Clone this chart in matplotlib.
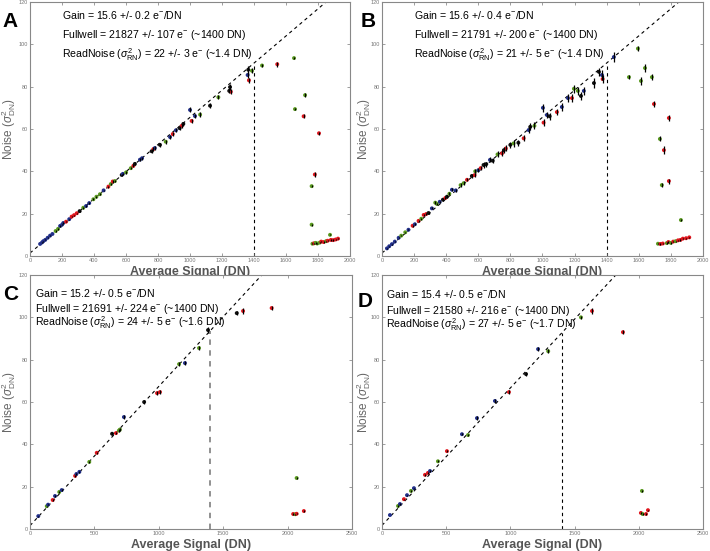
import matplotlib
matplotlib.use('Agg')
import matplotlib.pyplot as plt
import numpy as np

plt.rcParams['font.family'] = ['Liberation Sans', 'DejaVu Sans']
plt.rcParams['mathtext.fontset'] = 'custom'
plt.rcParams['mathtext.rm'] = 'Liberation Sans'
plt.rcParams['mathtext.it'] = 'Liberation Sans:italic'
plt.rcParams['mathtext.bf'] = 'Liberation Sans:bold'

# ---- Panel A ----
a_signal = [63, 75, 83, 95, 110, 125, 140, 160, 175, 188, 200, 208, 225, 245, 260, 275, 292, 310,
            333, 350, 370, 396, 415, 437, 460, 490, 505, 517, 530, 573, 580, 600, 630, 646, 655,
            687, 700, 760, 771, 780, 812, 848, 875, 892, 912, 935, 948, 958, 1000, 1010, 1031,
            1063, 1125, 1177, 1245, 1250, 1255, 1360, 1364, 1368, 1387, 1450, 1545, 1650, 1656,
            1710, 1719, 1760, 1760, 1780, 1806,
            1765, 1775, 1785, 1795, 1810, 1820, 1835, 1850, 1860, 1875, 1880, 1895, 1910, 1925]
a_noise = [5.7, 6.4, 7.0, 7.6, 8.6, 9.6, 10.4, 11.8, 12.8, 14.2, 14.8, 15.6, 16.2, 17.4, 18.6, 19.3,
           20.2, 21.2, 22.8, 23.6, 25.0, 26.8, 28.0, 29.2, 31.0, 32.8, 34.0, 35.2, 35.4, 38.3, 38.8,
           39.5, 41.5, 42.6, 43.5, 45.5, 46.2, 49.5, 50.5, 51.0, 52.5, 54.0, 56.2, 57.6, 59.4, 60.4,
           61.5, 62.4, 69.0, 63.8, 66.1, 66.8, 71.0, 75.0, 78.0, 79.8, 77.6, 85.5, 88.0, 83.0, 87.5,
           90.0, 90.6, 93.5, 69.4, 66.0, 76.0, 33.0, 14.8, 38.5, 58.0,
           5.8, 6.0, 6.2, 5.9, 6.3, 6.8, 6.6, 7.0, 7.2, 10.0, 7.6, 7.5, 7.8, 8.2]
a_err = [0.2, 0.2, 0.2, 0.2, 0.2, 0.2, 0.2, 0.3, 0.3, 0.3, 0.3, 0.3, 0.3, 0.3, 0.3, 0.3, 0.3, 0.3,
         0.4, 0.4, 0.4, 0.4, 0.4, 0.4, 0.4, 0.5, 0.5, 0.5, 0.5, 0.6, 0.6, 0.6, 0.6, 0.7, 0.7, 0.7,
         0.7, 0.9, 0.9, 0.9, 0.9, 0.9, 1.0, 1.0, 1.0, 1.0, 1.0, 1.0, 1.2, 1.0, 1.0, 1.0, 1.2, 1.0,
         1.2, 1.5, 1.2, 1.5, 1.8, 1.2, 1.2, 0.8, 1.2, 0.6, 0.6, 1.0, 1.0, 0.6, 0.4, 1.2, 0.8,
         0.3, 0.3, 0.3, 0.3, 0.3, 0.3, 0.3, 0.3, 0.3, 0.3, 0.3, 0.3, 0.3, 0.3]
a_color = ['b', 'b', 'b', 'b', 'b', 'b', 'b', 'g', 'g', 'b', 'b', 'b', 'r', 'b', 'r', 'r', 'r', 'k',
           'g', 'b', 'b', 'g', 'g', 'g', 'b', 'r', 'g', 'r', 'g', 'k', 'b', 'g', 'g', 'r', 'k',
           'b', 'b', 'k', 'r', 'b', 'k', 'g', 'b', 'r', 'b', 'k', 'r', 'k', 'b', 'r', 'b',
           'g', 'k', 'g', 'k', 'k', 'r', 'b', 'k', 'r', 'g', 'g', 'r', 'g', 'g',
           'r', 'g', 'g', 'g', 'r', 'r',
           'g', 'r', 'g', 'g', 'g', 'r', 'r', 'g', 'r', 'g', 'r', 'r', 'r', 'r']

# ---- Panel B ----
b_signal = [31, 45, 62, 80, 104, 120, 145, 165, 191, 205, 228, 245, 260, 275, 290, 311, 332, 342,
            360, 380, 395, 405, 420, 436, 460, 490, 509, 530, 560, 577, 581, 600, 615, 633, 650,
            673, 690, 720, 748, 760, 772, 800, 820, 850, 883, 914, 924, 950, 1003, 1007, 1028,
            1045, 1090, 1121, 1159, 1184, 1196, 1221, 1240, 1258, 1321, 1352, 1371, 1375, 1445,
            1539, 1595, 1614, 1639, 1682, 1695, 1732, 1744, 1757, 1788, 1788, 1863,
            1720, 1735, 1750, 1775, 1785, 1800, 1815, 1830, 1845, 1860, 1875, 1895, 1915]
b_noise = [3.6, 4.6, 5.6, 6.8, 8.6, 9.6, 11.2, 12.4, 14.3, 15.0, 16.6, 17.6, 19.4, 19.8, 20.3, 22.5,
           25.2, 24.6, 25.6, 26.6, 27.4, 28.0, 29.4, 31.3, 31.0, 33.5, 34.4, 36.0, 37.8, 38.2, 40.0,
           40.5, 41.5, 43.0, 43.4, 45.4, 45.0, 48.0, 48.5, 50.0, 50.8, 52.5, 53.2, 53.5, 55.6, 59.5,
           61.0, 61.5, 70.0, 63.0, 66.6, 66.0, 68.0, 70.4, 74.6, 74.6, 79.0, 78.0, 75.6, 78.0, 81.7,
           87.0, 85.5, 83.6, 94.0, 84.5, 98.0, 82.7, 88.8, 84.5, 71.8, 55.3, 33.5, 50.0, 65.2, 35.4,
           17.0,
           5.8, 5.7, 5.9, 6.1, 6.6, 6.2, 6.8, 7.0, 7.4, 7.6, 8.2, 8.4, 8.8]
b_err = [0.2, 0.2, 0.2, 0.2, 0.3, 0.3, 0.3, 0.3, 0.4, 0.4, 0.4, 0.4, 0.5, 0.5, 0.5, 0.5, 0.6, 0.6,
         0.6, 0.6, 0.7, 0.7, 0.7, 0.7, 0.7, 0.8, 0.8, 0.8, 1.0, 1.0, 1.0, 1.0, 1.0, 1.2, 1.2, 1.2,
         1.2, 1.4, 1.4, 1.4, 1.4, 1.5, 1.5, 1.5, 1.5, 1.6, 1.6, 1.6, 1.8, 1.6, 1.6, 1.6, 1.6, 1.8,
         1.8, 1.8, 1.8, 1.8, 2.0, 2.0, 2.2, 2.0, 2.2, 2.0, 2.5, 1.0, 1.2, 1.8, 1.8, 1.5, 1.2, 1.2,
         1.0, 1.8, 1.2, 1.2, 0.6,
         0.3, 0.3, 0.3, 0.3, 0.3, 0.3, 0.3, 0.3, 0.3, 0.3, 0.3, 0.3, 0.3]
b_color = ['b', 'b', 'b', 'b', 'b', 'g', 'g', 'b', 'r', 'b', 'r', 'g', 'r', 'r', 'k', 'b', 'g', 'g',
           'b', 'k', 'r', 'k', 'g', 'b', 'b', 'g', 'g', 'r', 'k', 'r', 'g', 'b', 'r', 'k', 'k',
           'b', 'k', 'g', 'r', 'k', 'r', 'k', 'g', 'k', 'r', 'b', 'k', 'g', 'b', 'r', 'b',
           'k', 'r', 'b', 'b', 'r', 'g', 'g', 'k', 'b', 'k', 'k', 'b', 'r', 'b',
           'g', 'g', 'g', 'g', 'g', 'r', 'g', 'g', 'r', 'r', 'r', 'g',
           'g', 'r', 'r', 'g', 'r', 'g', 'r', 'g', 'r', 'r', 'r', 'r', 'r']

# ---- Panel C ----
c_signal = [64, 130, 140, 176, 194, 227, 246, 350, 360, 383, 460, 518, 637, 667, 690, 698, 729, 886,
            986, 1009, 1157, 1203, 1312, 1382, 1605, 1654, 1876, 2043, 2060, 2070, 2070, 2126]
c_noise = [6.1, 10.8, 11.5, 13.7, 15.6, 17.5, 18.4, 25.1, 26.0, 27.0, 31.7, 36.0, 45.0, 45.3, 46.5,
           47.0, 52.9, 60.0, 64.2, 64.7, 77.9, 78.4, 85.5, 94.0, 102.0, 103.0, 104.4, 7.1, 7.0,
           7.2, 24.1, 8.5]
c_err = [0.2, 0.3, 0.3, 0.3, 0.3, 0.3, 0.3, 0.4, 0.4, 0.4, 0.5, 0.5, 0.6, 0.6, 0.6, 0.6, 0.8, 0.8,
         1.0, 1.0, 1.0, 1.0, 1.0, 1.5, 1.0, 1.2, 0.8, 0.3, 0.3, 0.3, 0.5, 0.3]
c_color = ['b', 'g', 'b', 'r', 'b', 'g', 'b', 'r', 'b', 'b', 'g', 'r', 'k', 'r', 'g', 'g', 'b', 'k',
           'r', 'r', 'g', 'b', 'g', 'k', 'k', 'r', 'r', 'r', 'g', 'r', 'g', 'r']

# ---- Panel D ----
d_signal = [62, 125, 140, 171, 195, 226, 249, 335, 358, 374, 436, 506, 623, 670, 740, 880, 989,
            1122, 1216, 1295, 1550, 1636, 1877, 2017, 2025, 2030, 2057, 2072]
d_noise = [6.6, 10.9, 11.8, 14.1, 16.0, 18.0, 19.3, 25.6, 26.5, 27.4, 32.0, 36.8, 44.8, 44.4, 52.4,
           60.5, 64.7, 73.2, 85.0, 84.0, 100.0, 103.0, 93.0, 7.6, 18.0, 7.1, 7.1, 8.9]
d_err = [0.2, 0.3, 0.3, 0.3, 0.3, 0.3, 0.3, 0.4, 0.4, 0.4, 0.5, 0.5, 0.6, 0.6, 0.8, 0.8, 1.0, 1.0,
         1.0, 1.0, 0.8, 1.2, 0.8, 0.3, 0.4, 0.3, 0.3, 0.3]
d_color = ['b', 'g', 'b', 'r', 'b', 'g', 'b', 'r', 'r', 'b', 'g', 'r', 'b', 'g', 'b', 'b', 'r', 'k',
           'b', 'g', 'g', 'r', 'r', 'r', 'g', 'g', 'r', 'r']

# fit lines: gain (e- per DN) and intercept
gains = [15.6, 15.6, 15.2, 15.4]
intercepts = [1.4, 1.4, 1.6, 1.7]
fullwell_dn = [1400, 1400, 1400, 1400]
x_max = [2000, 2000, 2500, 2500]

labels = ['A', 'B', 'C', 'D']
notes = [
    ['Gain = 15.6 +/- 0.2 e$^{-}$/DN',
     'Fullwell = 21827 +/- 107 e$^{-}$ (~1400 DN)',
     'ReadNoise ($\\sigma^2_{\\mathrm{RN}}$) = 22 +/- 3 e$^{-}$ (~1.4 DN)'],
    ['Gain = 15.6 +/- 0.4 e$^{-}$/DN',
     'Fullwell = 21791 +/- 200 e$^{-}$ (~1400 DN)',
     'ReadNoise ($\\sigma^2_{\\mathrm{RN}}$) = 21 +/- 5 e$^{-}$ (~1.4 DN)'],
    ['Gain = 15.2 +/- 0.5 e$^{-}$/DN',
     'Fullwell = 21691 +/- 224 e$^{-}$ (~1400 DN)',
     'ReadNoise ($\\sigma^2_{\\mathrm{RN}}$) = 24 +/- 5 e$^{-}$ (~1.6 DN)'],
    ['Gain = 15.4 +/- 0.5 e$^{-}$/DN',
     'Fullwell = 21580 +/- 216 e$^{-}$ (~1400 DN)',
     'ReadNoise ($\\sigma^2_{\\mathrm{RN}}$) = 27 +/- 5 e$^{-}$ (~1.7 DN)'],
]
note_x = [200, 200, 40, 31]
note_y = [[114, 104.5, 95], [114, 104.5, 95], [111.5, 104, 97.3], [111, 103, 96.4]]

palette = {'b': '#22308a', 'g': '#5a9a20', 'r': '#e0161d', 'k': '#111111'}

fig = plt.figure(figsize=(7.1, 5.51), dpi=100)
rects = [[0.0423, 0.5354, 0.4507, 0.461],
         [0.538, 0.5354, 0.452, 0.461],
         [0.0423, 0.0399, 0.4535, 0.461],
         [0.538, 0.0399, 0.452, 0.461]]
letter_pos = [(0.004, 0.978), (0.508, 0.978), (0.004, 0.482), (0.504, 0.47)]
ylabel_x = [-0.066, -0.058, -0.066, -0.058]

panels = [(a_signal, a_noise, a_err, a_color),
          (b_signal, b_noise, b_err, b_color),
          (c_signal, c_noise, c_err, c_color),
          (d_signal, d_noise, d_err, d_color)]

for i, (sig, noi, err, col) in enumerate(panels):
    ax = fig.add_axes(rects[i])
    xm = x_max[i]

    # photon transfer line and fullwell marker
    xl = np.array([0, xm])
    ax.plot(xl, xl / gains[i] + intercepts[i], color='k', lw=0.8, ls=(0, (3, 3)), zorder=1)
    top = fullwell_dn[i] / gains[i] + intercepts[i]
    vcol = '#888888' if i == 2 else 'k'
    vlw = 1.3 if i == 2 else 0.8
    ax.plot([fullwell_dn[i], fullwell_dn[i]], [0, top], color=vcol, lw=vlw, ls=(0, (3, 3)), zorder=1)

    # data points with error bars
    ax.scatter(sig, noi, s=8, c=[palette[c] for c in col], linewidths=0, zorder=2)
    ax.errorbar(sig, noi, yerr=err, fmt='none', ecolor='k', elinewidth=0.9, capsize=0, zorder=3)

    ax.set_xlim(0, xm)
    ax.set_ylim(0, 120)
    if xm == 2000:
        ax.set_xticks(np.arange(0, 2001, 200))
    else:
        ax.set_xticks(np.arange(0, 2501, 500))
    ax.set_yticks(np.arange(0, 121, 20))
    ax.tick_params(direction='in', top=True, right=True, length=2.5, width=0.5,
                   labelsize=4, colors='#777777', pad=1.5)
    for sp in ax.spines.values():
        sp.set_color('#888888')
        sp.set_linewidth(0.8)

    ax.set_xlabel('Average Signal (DN)', fontsize=9, fontweight='bold', color='#555555')
    ax.xaxis.set_label_coords(0.5, -0.062)
    ax.xaxis.label.set_va('center')
    ax.set_ylabel('Noise ($\\sigma^2_{\\mathrm{DN}}$)', fontsize=8.5, color='#666666')
    ax.yaxis.set_label_coords(ylabel_x[i], 0.5)
    ax.yaxis.label.set_va('center')

    for txt, ty in zip(notes[i], note_y[i]):
        ax.text(note_x[i], ty, txt, fontsize=7.6, va='center', ha='left', color='k')

    fig.text(letter_pos[i][0], letter_pos[i][1], labels[i], fontsize=15, fontweight='bold',
             va='top', ha='left')

fig.savefig('out.png', dpi=100)
